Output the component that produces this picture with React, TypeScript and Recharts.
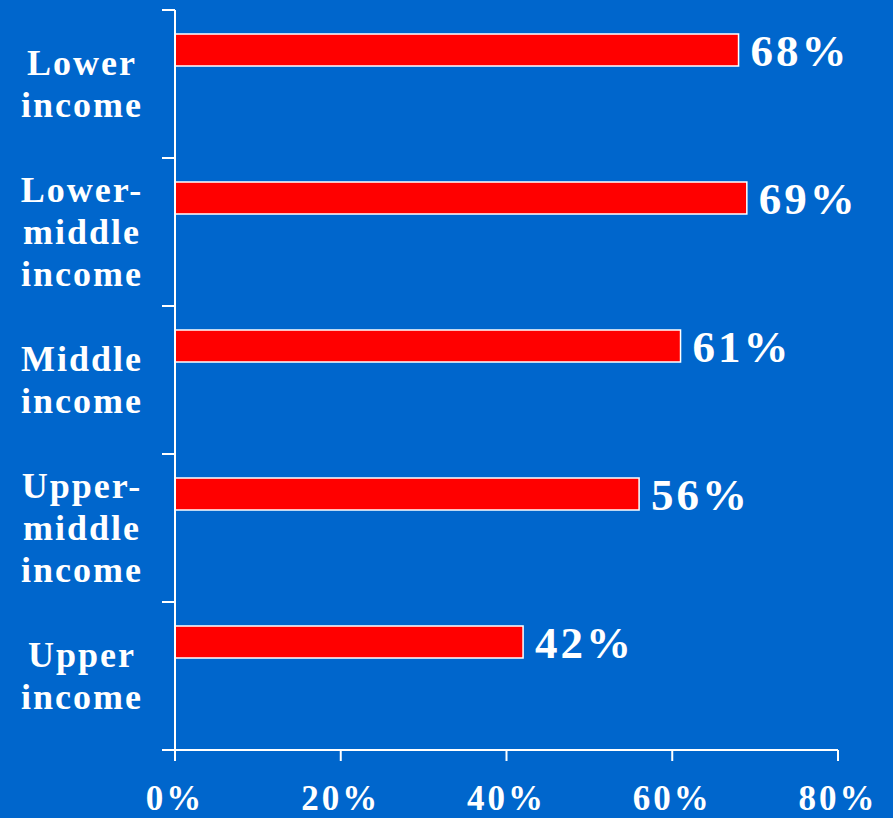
import { BarChart, Bar, XAxis, YAxis, LabelList } from 'recharts';

const categories = [
  'Lower\nincome',
  'Lower-\nmiddle\nincome',
  'Middle\nincome',
  'Upper-\nmiddle\nincome',
  'Upper\nincome',
];
const shares = [68, 69, 61, 56, 42];
const xTicks = [0, 20, 40, 60, 80];

const BG = '#0066CC';
const FONT = '"Liberation Serif", "Times New Roman", serif';

const W = 893;
const H = 818;
const MARGIN = { top: 10, right: 55, bottom: 0, left: 0 };
const X_AXIS_H = 68;
const BAND = (H - MARGIN.top - MARGIN.bottom - X_AXIS_H) / categories.length;

const data = categories.map((name, i) => ({ name, value: shares[i], pad: 0 }));

function CategoryTick({ x, y, payload, index }: any) {
  const lines = String(payload.value).split('\n');
  const lineH = 42;
  const first = y - ((lines.length - 1) * lineH) / 2 + 12;
  const axisX = x + 8;
  const isLast = index === categories.length - 1;
  return (
    <g>
      <line x1={axisX - 13} x2={axisX} y1={y - BAND / 2} y2={y - BAND / 2} stroke="#fff" strokeWidth={2} />
      {isLast && (
        <line x1={axisX - 13} x2={axisX} y1={y + BAND / 2} y2={y + BAND / 2} stroke="#fff" strokeWidth={2} />
      )}
      <text
        x={x - 85}
        y={first}
        textAnchor="middle"
        fill="#fff"
        fontFamily={FONT}
        fontWeight="bold"
        fontSize={36}
        letterSpacing={2}
      >
        {lines.map((l, i) => (
          <tspan key={i} x={x - 85} y={first + i * lineH}>
            {l}
          </tspan>
        ))}
      </text>
    </g>
  );
}

export default function App() {
  return (
    <div style={{ position: 'absolute', left: 0, top: 0, width: W, height: H, background: BG }}>
      <BarChart
        width={W}
        height={H}
        data={data}
        layout="vertical"
        margin={MARGIN}
        barSize={32}
        barGap={36}
      >
        <XAxis
          type="number"
          domain={[0, 80]}
          ticks={xTicks}
          tickFormatter={(v) => `${v}%`}
          height={X_AXIS_H}
          stroke="#fff"
          strokeWidth={2}
          tickSize={11}
          tickMargin={24}
          tick={{ fill: '#fff', fontFamily: FONT, fontWeight: 'bold', fontSize: 35, letterSpacing: 3 }}
        />
        <YAxis
          type="category"
          dataKey="name"
          width={175}
          stroke="#fff"
          strokeWidth={2}
          tickLine={false}
          tick={<CategoryTick />}
          interval={0}
        />
        <Bar dataKey="value" fill="#FF0000" stroke="#fff" strokeWidth={1.5} isAnimationActive={false}>
          <LabelList
            dataKey="value"
            position="right"
            offset={12}
            formatter={(v: any) => `${v}%`}
            fill="#fff"
            fontFamily={FONT}
            fontWeight="bold"
            fontSize={45}
            letterSpacing={3}
          />
        </Bar>
        <Bar dataKey="pad" fill="none" stroke="none" isAnimationActive={false} />
      </BarChart>
    </div>
  );
}
